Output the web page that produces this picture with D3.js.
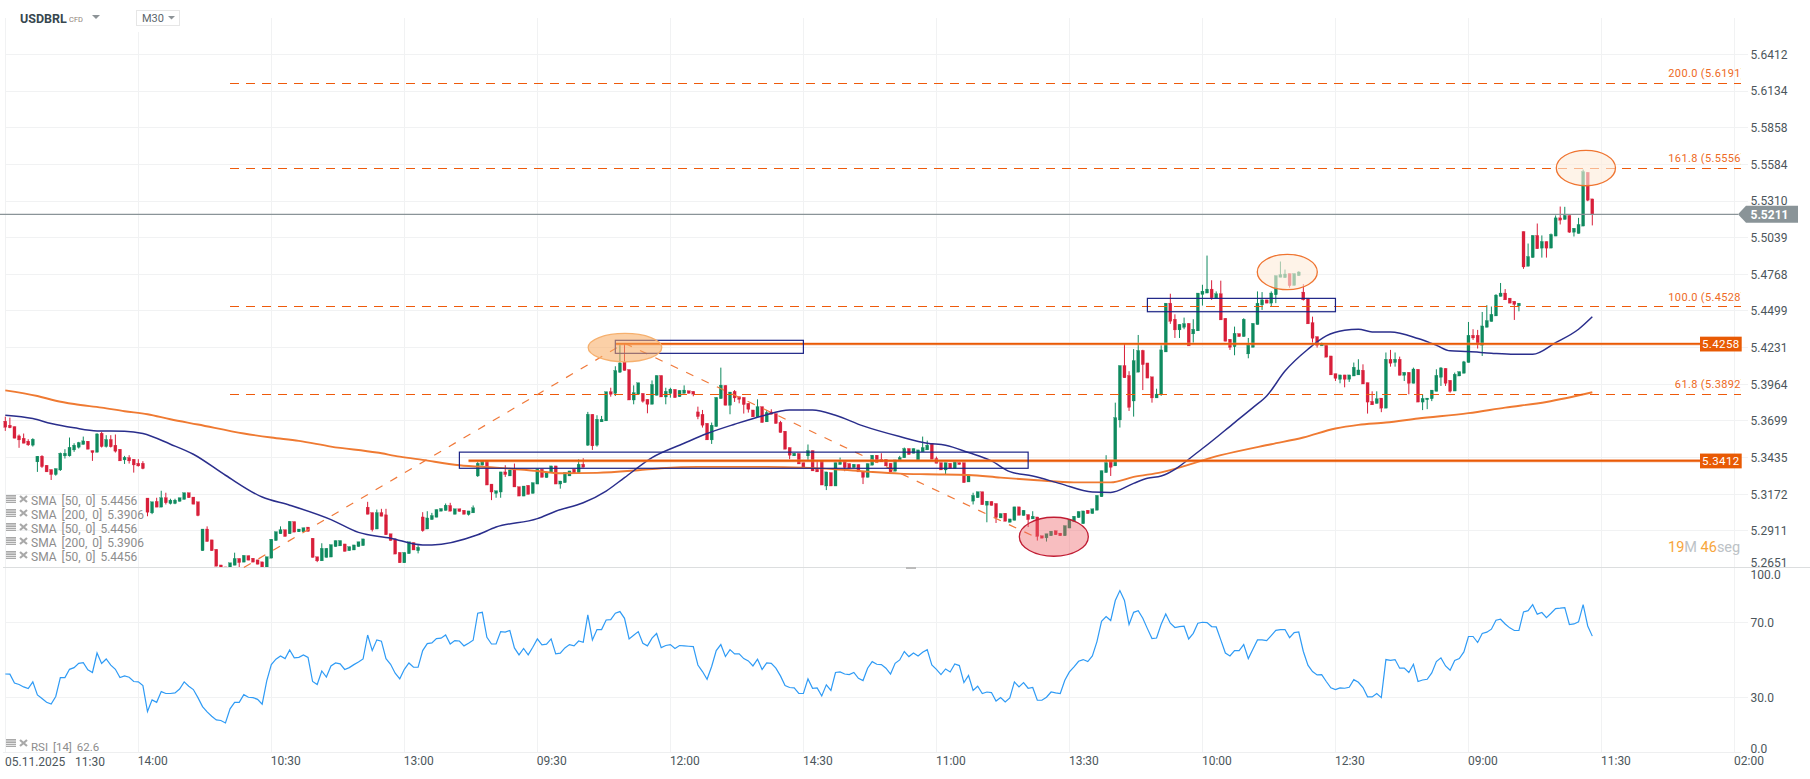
<!DOCTYPE html>
<html>
<head>
<meta charset="utf-8">
<title>USDBRL</title>
<script src="https://cdn.jsdelivr.net/npm/d3@7"></script>
<style>
  html, body { margin: 0; padding: 0; background: #fff; }
  svg { display: block; font-family: Roboto, sans-serif; }
</style>
</head>
<body>
<div id="vis"></div>
<script>
const WIDTH = 1810;
const HEIGHT = 779;

// M30 candles, one row of ten per line
const opens = [
5.3697,5.3668,5.3658,5.3591,5.3574,5.3553,5.3524,5.3404,5.3445,5.3380,
5.3349,5.3313,5.3346,5.3447,5.3447,5.3490,5.3509,5.3529,5.3553,5.3485,
5.3473,5.3610,5.3514,5.3565,5.3524,5.3495,5.3418,5.3435,5.3423,5.3394,
5.3394,5.3145,5.3039,5.3121,5.3080,5.3147,5.3106,5.3106,5.3121,5.3135,
5.3183,5.3152,5.3118,5.2770,5.2924,5.2847,5.2780,5.2669,5.2655,5.2650,
5.2667,5.2715,5.2689,5.2735,5.2717,5.2705,5.2691,5.2650,5.2717,5.2842,
5.2890,5.2919,5.2890,5.2977,5.2904,5.2904,5.2938,5.2859,5.2727,5.2698,
5.2722,5.2725,5.2799,5.2804,5.2818,5.2770,5.2775,5.2799,5.2806,5.3080,
5.3041,5.2924,5.3041,5.3025,5.2890,5.2854,5.2758,5.2684,5.2749,5.2828,
5.2770,5.3010,5.2924,5.2991,5.3008,5.3051,5.3056,5.3092,5.3029,5.3068,
5.3058,5.3027,5.3039,5.3303,5.3380,5.3409,5.3245,5.3178,5.3188,5.3332,
5.3303,5.3351,5.3226,5.3159,5.3236,5.3178,5.3245,5.3351,5.3291,5.3327,
5.3375,5.3245,5.3255,5.3303,5.3351,5.3327,5.3387,5.3524,5.3747,5.3524,
5.3692,5.3699,5.3910,5.3898,5.4052,5.4126,5.4071,5.3850,5.3891,5.3898,
5.3855,5.3819,5.3884,5.4028,5.3872,5.3898,5.3927,5.3874,5.3898,5.3917,
5.3913,5.3764,5.3747,5.3682,5.3562,5.3658,5.3860,5.3956,5.3812,5.3913,
5.3874,5.3869,5.3826,5.3778,5.3728,5.3802,5.3692,5.3764,5.3752,5.3689,
5.3625,5.3507,5.3447,5.3464,5.3399,5.3447,5.3485,5.3351,5.3409,5.3231,
5.3327,5.3231,5.3385,5.3406,5.3392,5.3363,5.3385,5.3332,5.3293,5.3380,
5.3452,5.3423,5.3423,5.3394,5.3337,5.3411,5.3433,5.3500,5.3466,5.3411,
5.3476,5.3490,5.3538,5.3428,5.3399,5.3346,5.3394,5.3356,5.3399,5.3399,
5.3260,5.3123,5.3147,5.3190,5.3094,5.3121,5.3106,5.3003,5.3037,5.2972,
5.2986,5.3082,5.3020,5.3027,5.2996,5.3010,5.2876,5.2861,5.2876,5.2912,
5.2895,5.2876,5.2931,5.2977,5.3005,5.2962,5.3058,5.3034,5.3058,5.3154,
5.3327,5.3411,5.3375,5.3706,5.4100,5.4028,5.3843,5.4052,5.4210,5.4119,
5.4018,5.3865,5.3888,5.4199,5.4556,5.4438,5.4360,5.4379,5.4408,5.4331,
5.4353,5.4620,5.4630,5.4659,5.4590,5.4625,5.4445,5.4292,5.4238,5.4333,
5.4311,5.4185,5.4233,5.4399,5.4543,5.4580,5.4556,5.4617,5.4746,5.4743,
5.4773,5.4686,5.4758,5.4637,5.4593,5.4413,5.4311,5.4243,5.4248,5.4170,
5.4041,5.4000,5.4032,5.4000,5.4024,5.4032,5.4066,5.3976,5.3840,5.3825,
5.3864,5.3791,5.4146,5.4122,5.4146,5.4029,5.4051,5.3971,5.4073,5.3835,
5.3852,5.3859,5.3913,5.4015,5.4080,5.3993,5.3915,5.4024,5.4044,5.4122,
5.4321,5.4321,5.4248,5.4379,5.4421,5.4462,5.4605,5.4630,5.4593,5.4570,
5.4536,5.5084,5.4827,5.4891,5.5055,5.4961,5.5010,5.4961,5.5050,5.5185,
5.5173,5.5203,5.5079,5.5069,5.5124,5.5524,5.5326];

const closes = [
5.3653,5.3649,5.3574,5.3562,5.3538,5.3526,5.3567,5.3445,5.3370,5.3332,
5.3313,5.3356,5.3466,5.3466,5.3509,5.3524,5.3543,5.3555,5.3495,5.3471,
5.3605,5.3514,5.3565,5.3512,5.3481,5.3411,5.3437,5.3411,5.3382,5.3375,
5.3356,5.3044,5.3118,5.3080,5.3147,5.3111,5.3130,5.3130,5.3147,5.3183,
5.3147,5.3101,5.3020,5.2924,5.2835,5.2770,5.2660,5.2645,5.2630,5.2684,
5.2715,5.2686,5.2737,5.2703,5.2689,5.2674,5.2645,5.2727,5.2852,5.2905,
5.2919,5.2871,5.2979,5.2902,5.2924,5.2933,5.2907,5.2722,5.2698,5.2787,
5.2787,5.2813,5.2842,5.2842,5.2765,5.2799,5.2811,5.2833,5.2854,5.3029,
5.2919,5.3041,5.3015,5.2883,5.2842,5.2746,5.2684,5.2758,5.2833,5.2775,
5.2794,5.2912,5.3003,5.3020,5.3063,5.3070,5.3094,5.3051,5.3068,5.3049,
5.3029,5.3053,5.3075,5.3394,5.3409,5.3238,5.3188,5.3197,5.3332,5.3313,
5.3346,5.3224,5.3159,5.3231,5.3171,5.3255,5.3351,5.3293,5.3327,5.3375,
5.3245,5.3267,5.3327,5.3339,5.3322,5.3387,5.3365,5.3747,5.3519,5.3711,
5.3711,5.3910,5.3891,5.4064,5.4119,5.4064,5.3850,5.3903,5.3975,5.3841,
5.3819,5.3963,5.4028,5.3872,5.3913,5.3929,5.3867,5.3920,5.3922,5.3898,
5.3893,5.3730,5.3668,5.3562,5.3668,5.3869,5.3958,5.3812,5.3908,5.3865,
5.3855,5.3817,5.3783,5.3728,5.3802,5.3687,5.3759,5.3747,5.3680,5.3615,
5.3495,5.3452,5.3466,5.3389,5.3361,5.3485,5.3339,5.3332,5.3238,5.3332,
5.3231,5.3399,5.3404,5.3363,5.3358,5.3387,5.3332,5.3293,5.3392,5.3452,
5.3399,5.3404,5.3375,5.3332,5.3418,5.3435,5.3500,5.3457,5.3500,5.3490,
5.3507,5.3524,5.3423,5.3394,5.3346,5.3399,5.3356,5.3404,5.3385,5.3255,
5.3308,5.3164,5.3190,5.3097,5.3123,5.3092,5.3005,5.3034,5.2979,5.2996,
5.3082,5.3022,5.3058,5.2991,5.3015,5.2871,5.2859,5.2890,5.2909,5.2883,
5.2876,5.2948,5.2991,5.3015,5.3049,5.3053,5.3034,5.3068,5.3164,5.3341,
5.3399,5.3365,5.3723,5.4100,5.4011,5.3797,5.4136,5.4210,5.4107,5.4009,
5.3865,5.3893,5.4214,5.4556,5.4423,5.4360,5.4401,5.4406,5.4243,5.4365,
5.4630,5.4644,5.4659,5.4595,5.4625,5.4433,5.4277,5.4233,5.4335,5.4311,
5.4438,5.4250,5.4408,5.4556,5.4580,5.4556,5.4630,5.4758,5.4766,5.4770,
5.4684,5.4773,5.4785,5.4580,5.4404,5.4299,5.4248,5.4255,5.4161,5.4032,
5.4007,5.4032,5.4000,5.4032,5.4088,5.4068,5.3966,5.3835,5.3815,5.3859,
5.3791,5.4146,5.4117,5.4146,5.4029,5.4051,5.3971,5.4075,5.3835,5.3862,
5.3864,5.3922,5.4029,5.4083,5.3971,5.3913,5.4037,5.4056,5.4127,5.4321,
5.4301,5.4255,5.4389,5.4428,5.4474,5.4615,5.4630,5.4580,5.4556,5.4546,
5.4556,5.4822,5.4899,5.5055,5.4956,5.5010,5.4961,5.5062,5.5185,5.5168,
5.5203,5.5079,5.5108,5.5136,5.5529,5.5316,5.5211];

const highs = [
5.3730,5.3723,5.3658,5.3601,5.3608,5.3567,5.3574,5.3445,5.3452,5.3380,
5.3349,5.3356,5.3471,5.3495,5.3579,5.3538,5.3548,5.3586,5.3553,5.3485,
5.3610,5.3620,5.3596,5.3596,5.3601,5.3495,5.3447,5.3452,5.3423,5.3423,
5.3409,5.3145,5.3118,5.3147,5.3197,5.3183,5.3140,5.3140,5.3147,5.3183,
5.3183,5.3152,5.3118,5.2924,5.2943,5.2847,5.2780,5.2669,5.2655,5.2684,
5.2756,5.2715,5.2737,5.2735,5.2717,5.2705,5.2691,5.2727,5.2852,5.2905,
5.2943,5.2919,5.2979,5.2977,5.2924,5.2933,5.2938,5.2859,5.2727,5.2823,
5.2787,5.2813,5.2842,5.2842,5.2818,5.2799,5.2811,5.2833,5.2854,5.3118,
5.3041,5.3063,5.3068,5.3068,5.2890,5.2854,5.2758,5.2758,5.2833,5.2828,
5.2809,5.3044,5.3051,5.3039,5.3063,5.3070,5.3106,5.3111,5.3068,5.3068,
5.3058,5.3053,5.3092,5.3404,5.3409,5.3409,5.3245,5.3197,5.3332,5.3380,
5.3346,5.3392,5.3226,5.3231,5.3236,5.3255,5.3351,5.3351,5.3327,5.3375,
5.3375,5.3267,5.3327,5.3339,5.3351,5.3423,5.3430,5.3764,5.3747,5.3740,
5.3735,5.3910,5.3939,5.4095,5.4251,5.4263,5.4071,5.3956,5.3975,5.3898,
5.3855,5.3992,5.4028,5.4028,5.3939,5.3939,5.3927,5.3920,5.3956,5.3917,
5.3913,5.3802,5.3778,5.3682,5.3687,5.3869,5.4085,5.3956,5.3908,5.3922,
5.3874,5.3869,5.3826,5.3778,5.3855,5.3802,5.3778,5.3783,5.3752,5.3699,
5.3625,5.3507,5.3466,5.3464,5.3399,5.3529,5.3485,5.3409,5.3409,5.3332,
5.3327,5.3399,5.3435,5.3406,5.3392,5.3387,5.3385,5.3332,5.3392,5.3452,
5.3452,5.3466,5.3423,5.3394,5.3418,5.3447,5.3507,5.3500,5.3500,5.3490,
5.3586,5.3557,5.3538,5.3442,5.3399,5.3399,5.3394,5.3404,5.3399,5.3399,
5.3308,5.3183,5.3190,5.3190,5.3123,5.3121,5.3106,5.3034,5.3037,5.2996,
5.3082,5.3082,5.3058,5.3027,5.3051,5.3010,5.2876,5.2890,5.2909,5.2912,
5.2895,5.2948,5.2991,5.3015,5.3049,5.3053,5.3058,5.3068,5.3164,5.3341,
5.3452,5.3411,5.3831,5.4100,5.4263,5.4059,5.4220,5.4323,5.4215,5.4119,
5.4018,5.3932,5.4248,5.4556,5.4625,5.4474,5.4401,5.4450,5.4408,5.4438,
5.4630,5.4691,5.4906,5.4724,5.4642,5.4721,5.4445,5.4292,5.4384,5.4333,
5.4445,5.4301,5.4408,5.4642,5.4637,5.4580,5.4642,5.4758,5.4862,5.4803,
5.4773,5.4773,5.4790,5.4696,5.4593,5.4457,5.4311,5.4267,5.4248,5.4170,
5.4041,5.4032,5.4032,5.4032,5.4122,5.4146,5.4109,5.3976,5.3913,5.3913,
5.3864,5.4195,5.4214,5.4195,5.4165,5.4051,5.4051,5.4085,5.4073,5.3891,
5.3864,5.3922,5.4073,5.4088,5.4080,5.3993,5.4049,5.4056,5.4134,5.4418,
5.4365,5.4360,5.4491,5.4541,5.4531,5.4622,5.4704,5.4659,5.4593,5.4570,
5.4556,5.5084,5.4995,5.5055,5.5143,5.5055,5.5010,5.5069,5.5203,5.5269,
5.5267,5.5203,5.5108,5.5185,5.5544,5.5524,5.5326];

const lows = [
5.3627,5.3646,5.3574,5.3505,5.3538,5.3519,5.3514,5.3332,5.3361,5.3332,
5.3274,5.3305,5.3339,5.3428,5.3442,5.3476,5.3500,5.3529,5.3495,5.3411,
5.3473,5.3507,5.3507,5.3507,5.3471,5.3411,5.3389,5.3392,5.3327,5.3370,
5.3351,5.3015,5.3030,5.3080,5.3080,5.3099,5.3099,5.3101,5.3121,5.3135,
5.3147,5.3101,5.3015,5.2770,5.2835,5.2770,5.2660,5.2640,5.2625,5.2650,
5.2667,5.2650,5.2689,5.2703,5.2689,5.2674,5.2640,5.2650,5.2717,5.2842,
5.2890,5.2871,5.2890,5.2902,5.2904,5.2904,5.2907,5.2722,5.2689,5.2698,
5.2722,5.2725,5.2799,5.2804,5.2765,5.2770,5.2775,5.2799,5.2806,5.3029,
5.2907,5.2924,5.3015,5.2883,5.2842,5.2746,5.2684,5.2684,5.2749,5.2775,
5.2751,5.2905,5.2924,5.2991,5.3008,5.3051,5.3056,5.3051,5.3029,5.3049,
5.3029,5.3020,5.3039,5.3296,5.3380,5.3238,5.3130,5.3147,5.3147,5.3296,
5.3303,5.3224,5.3159,5.3159,5.3171,5.3178,5.3245,5.3293,5.3291,5.3327,
5.3245,5.3212,5.3255,5.3303,5.3322,5.3327,5.3365,5.3519,5.3490,5.3514,
5.3692,5.3699,5.3874,5.3879,5.4047,5.4064,5.3850,5.3819,5.3891,5.3831,
5.3754,5.3819,5.3884,5.3872,5.3819,5.3867,5.3867,5.3874,5.3898,5.3898,
5.3877,5.3711,5.3651,5.3562,5.3533,5.3658,5.3860,5.3812,5.3747,5.3836,
5.3826,5.3752,5.3759,5.3728,5.3728,5.3687,5.3692,5.3747,5.3680,5.3615,
5.3495,5.3423,5.3447,5.3389,5.3361,5.3411,5.3339,5.3332,5.3238,5.3202,
5.3231,5.3231,5.3385,5.3337,5.3358,5.3363,5.3332,5.3245,5.3293,5.3380,
5.3399,5.3404,5.3375,5.3332,5.3337,5.3411,5.3433,5.3457,5.3466,5.3411,
5.3476,5.3490,5.3423,5.3394,5.3346,5.3313,5.3356,5.3356,5.3385,5.3255,
5.3260,5.3099,5.3147,5.3097,5.2972,5.3092,5.2967,5.3003,5.2979,5.2972,
5.2986,5.3022,5.3020,5.2938,5.2996,5.2842,5.2859,5.2835,5.2876,5.2883,
5.2876,5.2876,5.2931,5.2977,5.3005,5.2962,5.3034,5.3034,5.3058,5.3154,
5.3327,5.3303,5.3375,5.3651,5.4011,5.3771,5.3730,5.4052,5.3922,5.4009,
5.3831,5.3865,5.3880,5.4199,5.4404,5.4301,5.4301,5.4365,5.4243,5.4267,
5.4353,5.4538,5.4630,5.4580,5.4590,5.4433,5.4277,5.4214,5.4175,5.4311,
5.4311,5.4153,5.4233,5.4399,5.4506,5.4556,5.4531,5.4556,5.4746,5.4743,
5.4669,5.4686,5.4758,5.4575,5.4404,5.4267,5.4231,5.4243,5.4161,5.4032,
5.3988,5.3971,5.3942,5.3981,5.4024,5.4032,5.3966,5.3752,5.3815,5.3825,
5.3762,5.3791,5.4092,5.4092,5.4029,5.3988,5.3891,5.3971,5.3835,5.3777,
5.3784,5.3842,5.3913,5.3952,5.3952,5.3903,5.3915,5.4024,5.4044,5.4122,
5.4287,5.4224,5.4170,5.4379,5.4421,5.4462,5.4605,5.4580,5.4556,5.4433,
5.4496,5.4808,5.4827,5.4891,5.4956,5.4891,5.4891,5.4961,5.5050,5.5136,
5.5173,5.5074,5.5047,5.5069,5.5124,5.5309,5.5129];

// moving averages read at the bars where the curve bends
const sma50Bars = [0,6,10,15,20,26,30,36,41,48,56,62,71,77,84,91,93,103,107,116,120,126,131,135,141,148,153,159,165,171,176,181,187,195,201,205,210,215,219,224,230,237,241,246,249,252,261,268,272,275,279,284,288,292,295,298,302,308,312,315,319,324,329,333,338,343,346];
const sma50Values = [5.3740,5.3716,5.3680,5.3649,5.3627,5.3625,5.3608,5.3531,5.3459,5.3308,5.3152,5.3094,5.2991,5.2900,5.2859,5.2811,5.2811,5.2883,5.2938,5.2998,5.3051,5.3111,5.3195,5.3291,5.3435,5.3538,5.3608,5.3675,5.3735,5.3778,5.3778,5.3740,5.3663,5.3586,5.3538,5.3524,5.3471,5.3411,5.3334,5.3303,5.3248,5.3188,5.3185,5.3250,5.3286,5.3303,5.3500,5.3687,5.3795,5.3879,5.4060,5.4219,5.4316,5.4357,5.4365,5.4345,5.4345,5.4297,5.4248,5.4207,5.4202,5.4190,5.4182,5.4182,5.4267,5.4365,5.4456];
const sma200Bars = [0,7,11,15,21,26,31,36,42,52,58,64,71,81,86,91,99,107,116,121,129,138,143,151,166,174,181,188,195,201,210,217,225,233,241,246,252,265,276,283,290,295,301,308,319,327,336,346];
const sma200Values = [5.3920,5.3879,5.3845,5.3821,5.3795,5.3769,5.3747,5.3711,5.3673,5.3608,5.3579,5.3555,5.3514,5.3471,5.3442,5.3418,5.3380,5.3363,5.3339,5.3322,5.3325,5.3344,5.3358,5.3368,5.3368,5.3363,5.3351,5.3334,5.3320,5.3315,5.3310,5.3291,5.3272,5.3257,5.3257,5.3296,5.3329,5.3452,5.3531,5.3579,5.3644,5.3670,5.3687,5.3716,5.3755,5.3795,5.3836,5.3906];

const rsiValues = [
42.4,42.3,37.6,36.8,35.5,34.6,38.2,31.2,29.3,27.3,26.4,30.4,40.5,40.5,44.9,45.8,48.1,48.5,44.6,43.2,
53.6,48.0,50.4,47.1,44.9,40.5,41.4,40.7,38.4,38.2,36.2,22.4,28.6,27.3,33.0,32.0,32.0,32.3,34.4,38.2,
35.9,34.1,29.8,25.0,22.2,19.9,17.9,17.6,16.3,23.8,27.3,27.3,31.4,30.0,29.8,28.9,26.3,38.7,47.4,50.3,
52.0,50.6,55.2,51.0,51.3,52.6,51.2,38.4,36.8,44.0,40.8,46.7,48.3,47.8,44.8,45.8,47.4,48.8,50.4,63.2,
54.9,60.6,59.9,50.6,47.6,42.8,39.8,44.9,48.3,46.0,46.0,54.9,58.6,59.0,61.3,61.5,63.2,58.4,60.2,60.0,
57.4,58.8,60.4,74.8,75.3,62.0,58.4,58.4,65.0,64.7,65.6,56.3,52.6,56.0,52.6,56.7,61.1,57.9,58.3,61.1,
53.1,53.5,56.3,58.1,57.4,60.0,59.3,73.9,60.6,66.1,66.1,71.2,71.4,74.8,75.7,72.1,61.1,63.1,65.0,58.8,
57.4,61.5,64.0,56.5,57.6,58.1,56.0,57.6,57.4,57.2,57.0,47.2,43.7,39.6,46.4,54.9,58.1,51.7,55.4,53.1,
53.1,50.6,49.4,46.7,50.3,44.8,48.3,48.1,45.5,41.4,36.2,35.2,35.0,32.1,32.0,39.8,34.8,35.0,30.7,36.6,
33.6,43.2,43.5,42.4,42.1,43.2,40.1,38.9,45.5,49.0,47.6,47.4,45.5,42.4,48.1,49.9,
54.4,51.7,53.6,52.0,54.0,55.4,47.2,44.9,42.1,45.1,43.5,47.8,46.9,37.8,41.6,33.6,35.9,32.0,32.8,32.5,
28.0,29.8,27.5,29.6,38.2,35.5,37.8,34.8,35.2,28.4,28.4,30.0,32.8,32.3,32.0,39.1,43.5,46.2,49.2,50.1,
49.0,52.0,59.7,70.5,73.0,70.9,81.6,86.9,81.6,68.8,75.3,76.2,72.1,66.6,61.3,61.6,68.9,74.4,69.5,67.2,
67.7,67.9,61.1,64.1,69.5,70.0,69.8,67.7,67.5,60.6,53.6,52.0,54.9,54.9,58.1,50.6,55.6,60.6,60.6,60.2,
62.9,65.7,66.1,66.1,61.8,64.5,64.8,54.4,47.1,43.7,41.9,42.1,38.4,35.0,34.1,35.0,34.8,35.3,39.4,38.0,
35.2,30.2,30.2,32.0,29.8,50.1,49.7,50.1,45.5,45.6,43.2,47.6,38.4,39.2,39.6,43.0,49.0,51.0,46.7,44.4,
49.6,50.6,54.2,62.4,62.4,59.2,64.0,64.7,66.3,71.1,71.6,69.1,67.0,65.6,65.7,75.5,76.2,79.4,74.3,75.2,
72.5,74.8,77.3,77.5,77.8,68.8,69.1,70.2,79.4,68.0,62.6];

const priceTicks = [5.6412,5.6134,5.5858,5.5584,5.5310,5.5039,5.4768,5.4499,5.4231,5.3964,5.3699,5.3435,5.3172,5.2911,5.2651];
const rsiTicks = [100,70,30,0];
const timeLabels = ["14:00","10:30","13:00","09:30","12:00","14:30","11:00","13:30","10:00","12:30","09:00","11:30","02:00"];
const timeBars = [29,58,87,116,145,174,203,232,261,290,319,348,377];

const fibLevels = [5.6191,5.5556,5.4528,5.3892];
const fibLabels = ["200.0 (5.6191)","161.8 (5.5556)","100.0 (5.4528)","61.8 (5.3892)"];
const supportLevels = [5.4258,5.3412];
const supportStartBars = [133,101];
const lastPrice = 5.5211;

const trendBars = [52,135,225];
const trendPrices = [5.2651,5.4263,5.2860];

const boxBars = [[133,174],[99,223],[249,290]];
const boxPrices = [[5.4284,5.4189],[5.3474,5.3358],[5.4591,5.4493]];

const legendLabels = ["SMA [50, 0] 5.4456","SMA [200, 0] 5.3906","SMA [50, 0] 5.4456","SMA [200, 0] 5.3906","SMA [50, 0] 5.4456"];

const GREEN = "#0f8a5f";
const RED = "#d81f3a";
const FIB = "#ee5a0b";

const FRAME = d3.select("#vis")
  .append("svg")
    .attr("width", WIDTH)
    .attr("height", HEIGHT);

// 29 bars between two time labels, the axis runs out to bar 377
const X_SCALE = d3.scaleLinear().domain([0, 377]).range([5.3, 1734.5]);
// the price axis is logarithmic
const Y_SCALE = d3.scaleLog().domain([5.2651, 5.6412]).range([567.5, 54.3]);
const RSI_SCALE = d3.scaleLinear().domain([0, 100]).range([753.5, 566]);

const defs = FRAME.append("defs");
defs.append("clipPath").attr("id", "pricePane")
  .append("rect").attr("x", 0).attr("y", 0).attr("width", 1741).attr("height", 567);
defs.append("clipPath").attr("id", "fibClip")
  .append("rect").attr("x", 0).attr("y", 0).attr("width", 1741).attr("height", 567);

// grid
const grid = FRAME.append("g").attr("stroke", "#f1f2f3").attr("stroke-width", 1).attr("shape-rendering", "crispEdges");
grid.selectAll("line.h").data(priceTicks).enter().append("line")
  .attr("x1", 5).attr("x2", 1748)
  .attr("y1", (d) => Y_SCALE(d)).attr("y2", (d) => Y_SCALE(d));
grid.selectAll("line.r").data([70, 30]).enter().append("line")
  .attr("x1", 5).attr("x2", 1748)
  .attr("y1", (d) => RSI_SCALE(d)).attr("y2", (d) => RSI_SCALE(d));
grid.selectAll("line.v").data(timeBars).enter().append("line")
  .attr("x1", (d) => X_SCALE(d)).attr("x2", (d) => X_SCALE(d))
  .attr("y1", (d, i) => i === 0 ? 32 : 18).attr("y2", 752);
grid.append("line").attr("x1", 5.5).attr("x2", 5.5).attr("y1", 18).attr("y2", 752);

// pane borders
FRAME.append("line").attr("x1", 3).attr("x2", WIDTH).attr("y1", 567.5).attr("y2", 567.5)
  .attr("stroke", "#dcdedf").attr("stroke-width", 1.2);
FRAME.append("line").attr("x1", 3).attr("x2", 1741).attr("y1", 752.5).attr("y2", 752.5)
  .attr("stroke", "#eeeff0").attr("stroke-width", 1);
FRAME.append("rect").attr("x", 906).attr("y", 567).attr("width", 10).attr("height", 2).attr("fill", "#bbb");

// candles
const candles = FRAME.append("g").attr("clip-path", "url(#pricePane)");
const bars = candles.selectAll("g").data(opens).enter().append("g")
  .attr("fill", (d, i) => closes[i] >= d ? GREEN : RED)
  .attr("stroke", (d, i) => closes[i] >= d ? GREEN : RED);
bars.append("line")
  .attr("x1", (d, i) => X_SCALE(i)).attr("x2", (d, i) => X_SCALE(i))
  .attr("y1", (d, i) => Y_SCALE(highs[i])).attr("y2", (d, i) => Y_SCALE(lows[i]))
  .attr("stroke-width", 1);
bars.append("rect")
  .attr("x", (d, i) => X_SCALE(i) - 1.5).attr("width", 3)
  .attr("y", (d, i) => Y_SCALE(Math.max(d, closes[i])))
  .attr("height", (d, i) => Math.max(1, Math.abs(Y_SCALE(d) - Y_SCALE(closes[i]))))
  .attr("stroke-width", 0.3);

// moving averages
const smaLine = (xs) => d3.line().x((d, i) => X_SCALE(xs[i])).y((d) => Y_SCALE(d)).curve(d3.curveMonotoneX);
FRAME.append("path").datum(sma200Values)
  .attr("d", smaLine(sma200Bars)).attr("fill", "none")
  .attr("stroke", "#ef7a32").attr("stroke-width", 1.9);
FRAME.append("path").datum(sma50Values)
  .attr("d", smaLine(sma50Bars)).attr("fill", "none")
  .attr("stroke", "#2a2e8c").attr("stroke-width", 1.5);

// fib levels
FRAME.selectAll("line.fib").data(fibLevels).enter().append("line")
  .attr("x1", X_SCALE(49)).attr("x2", 1741)
  .attr("y1", (d) => Y_SCALE(d)).attr("y2", (d) => Y_SCALE(d))
  .attr("stroke", FIB).attr("stroke-width", 1).attr("stroke-dasharray", "9,7")
  .attr("shape-rendering", "crispEdges");
FRAME.append("g").attr("clip-path", "url(#fibClip)")
  .selectAll("text").data(fibLabels).enter().append("text")
    .attr("x", 1745)
    .attr("y", (d, i) => Y_SCALE(fibLevels[i]) - 6)
    .attr("text-anchor", "end")
    .attr("font-size", 11).attr("letter-spacing", 0.35)
    .attr("fill", "#ee6a24")
    .text((d) => d);

// trend line through the swing points
FRAME.append("path").datum(trendPrices)
  .attr("d", d3.line().x((d, i) => X_SCALE(trendBars[i])).y((d) => Y_SCALE(d)))
  .attr("fill", "none").attr("stroke", "#f0793a").attr("stroke-width", 1.2)
  .attr("stroke-dasharray", "8,9");

// horizontal levels with their tags
const levels = FRAME.selectAll("g.level").data(supportLevels).enter().append("g");
levels.append("line")
  .attr("x1", (d, i) => X_SCALE(supportStartBars[i])).attr("x2", 1700)
  .attr("y1", (d) => Y_SCALE(d)).attr("y2", (d) => Y_SCALE(d))
  .attr("stroke", "#f09a6a").attr("stroke-width", 3.4).attr("opacity", 0.45);
levels.append("line")
  .attr("x1", (d, i) => X_SCALE(supportStartBars[i])).attr("x2", 1700)
  .attr("y1", (d) => Y_SCALE(d)).attr("y2", (d) => Y_SCALE(d))
  .attr("stroke", "#ea5a06").attr("stroke-width", 1.8);
levels.append("rect")
  .attr("x", 1700).attr("width", 41.7).attr("height", 14.8)
  .attr("y", (d) => Y_SCALE(d) - 7.2)
  .attr("fill", "#e85a04");
levels.append("text")
  .attr("x", 1720.8).attr("y", (d) => Y_SCALE(d) + 4)
  .attr("text-anchor", "middle").attr("font-size", 11.5).attr("letter-spacing", 0.4)
  .attr("fill", "#fff")
  .text((d) => d.toFixed(4));

// blue boxes
FRAME.selectAll("rect.box").data(boxBars).enter().append("rect")
  .attr("x", (d) => X_SCALE(d[0]))
  .attr("width", (d) => X_SCALE(d[1]) - X_SCALE(d[0]))
  .attr("y", (d, i) => Y_SCALE(boxPrices[i][0]))
  .attr("height", (d, i) => Y_SCALE(boxPrices[i][1]) - Y_SCALE(boxPrices[i][0]))
  .attr("fill", "none").attr("stroke", "#1b2385").attr("stroke-width", 1.2);

// ellipses marking the swing highs and lows
const ellipseBars = [135.1,228.6,279.5,344.6];
const ellipsePrices = [5.4231,5.2869,5.4785,5.5556];
const ellipseRadii = [[36.8,14.2],[34.5,19.5],[30,17.7],[29.6,17.7]];
const ellipseFills = ["rgba(247,170,95,0.55)","rgba(238,100,105,0.42)","rgba(253,236,218,0.62)","rgba(253,236,218,0.62)"];
const ellipseStrokes = ["#f6b06e","#c01c33","#ef7430","#ef7430"];
FRAME.selectAll("ellipse").data(ellipseBars).enter().append("ellipse")
  .attr("cx", (d) => X_SCALE(d))
  .attr("cy", (d, i) => Y_SCALE(ellipsePrices[i]))
  .attr("rx", (d, i) => ellipseRadii[i][0])
  .attr("ry", (d, i) => ellipseRadii[i][1])
  .attr("fill", (d, i) => ellipseFills[i])
  .attr("stroke", (d, i) => ellipseStrokes[i])
  .attr("stroke-width", 1.3);

// last price line and tag
FRAME.append("line").attr("x1", 0).attr("x2", 1738)
  .attr("y1", Y_SCALE(lastPrice)).attr("y2", Y_SCALE(lastPrice))
  .attr("stroke", "#8a9498").attr("stroke-width", 1.2);

// rsi
FRAME.append("path").datum(rsiValues)
  .attr("d", d3.line().x((d, i) => X_SCALE(i)).y((d) => RSI_SCALE(d)))
  .attr("fill", "none").attr("stroke", "#2f9bf5").attr("stroke-width", 1.2);

// axes
const styleAxis = (g) => {
  g.select(".domain").remove();
  g.selectAll("line").remove();
  g.selectAll("text").attr("fill", "#4c565b").attr("font-size", 12).attr("font-family", "Roboto, sans-serif");
};
const priceAxis = FRAME.append("g")
  .attr("transform", "translate(1750.5,0)")
  .call(d3.axisRight(Y_SCALE).tickValues(priceTicks).tickFormat(d3.format(".4f")).tickSize(0).tickPadding(0))
  .call(styleAxis);
priceAxis.selectAll("text").filter((d) => d === 5.2651).attr("transform", "translate(0,-5)");

const rsiAxis = FRAME.append("g")
  .attr("transform", "translate(1750.5,0)")
  .call(d3.axisRight(RSI_SCALE).tickValues(rsiTicks).tickFormat(d3.format(".1f")).tickSize(0).tickPadding(0))
  .call(styleAxis);
rsiAxis.selectAll("text").filter((d) => d === 100).attr("transform", "translate(0,8.5)");
rsiAxis.selectAll("text").filter((d) => d === 0).attr("transform", "translate(0,-4.5)");

const timeAxis = FRAME.append("g")
  .attr("transform", "translate(0,752)")
  .call(d3.axisBottom(X_SCALE).tickValues(timeBars).tickFormat((d, i) => timeLabels[i]).tickSize(0).tickPadding(0))
  .call(styleAxis);
timeAxis.selectAll("text").attr("text-anchor", "start").attr("dx", -1).attr("y", 4);

FRAME.append("text").attr("x", 5).attr("y", 766).attr("font-size", 12).attr("fill", "#4c565b").text("05.11.2025");
FRAME.append("text").attr("x", 75).attr("y", 766).attr("font-size", 12).attr("fill", "#4c565b").text("11:30");

// last price tag goes over the axis labels
FRAME.append("path")
  .attr("d", d3.line()([[1738, Y_SCALE(lastPrice)], [1746, Y_SCALE(lastPrice) - 8.5], [1798, Y_SCALE(lastPrice) - 8.5], [1798, Y_SCALE(lastPrice) + 8.5], [1746, Y_SCALE(lastPrice) + 8.5]]) + "Z")
  .attr("fill", "#8a9498");
FRAME.append("text").attr("x", 1750.5).attr("y", Y_SCALE(lastPrice) + 4.5)
  .attr("font-size", 12).attr("font-weight", 700).attr("fill", "#fff").text(lastPrice.toFixed(4));

// legends
const icon = (g, y) => {
  g.append("rect").attr("x", 6).attr("y", y - 5).attr("width", 10).attr("height", 8).attr("fill", "#a9a9a9");
  [y - 3, y - 0.5, y + 1.5].forEach((ly) => {
    g.append("line").attr("x1", 6).attr("x2", 16).attr("y1", ly).attr("y2", ly).attr("stroke", "#fff").attr("stroke-width", 0.7);
  });
  g.append("path").attr("d", `M20,${y - 4}L27,${y + 2}M27,${y - 4}L20,${y + 2}`)
    .attr("stroke", "#a9a9a9").attr("stroke-width", 2.2);
};
const legend = FRAME.append("g");
legendLabels.forEach((t, i) => {
  const y = 500 + i * 14;
  icon(legend, y);
  legend.append("text").attr("x", 31).attr("y", y + 5)
    .attr("font-size", 12).attr("word-spacing", 2).attr("fill", "#8d8d8d").text(t);
});
icon(legend, 744);
legend.append("text").attr("x", 31).attr("y", 751)
  .attr("font-size", 11.5).attr("word-spacing", 2).attr("fill", "#8d8d8d").text("RSI [14] 62.6");

// countdown
const timer = FRAME.append("text").attr("x", 1668).attr("y", 552).attr("font-size", 14.5);
timer.append("tspan").attr("fill", "#f7a53b").text("19");
timer.append("tspan").attr("fill", "#bcc2c6").text("M ");
timer.append("tspan").attr("fill", "#f7a53b").text("46");
timer.append("tspan").attr("fill", "#bcc2c6").text("seg");

// header
FRAME.append("text").attr("x", 20).attr("y", 23).attr("font-size", 12.5).attr("font-weight", 700)
  .attr("fill", "#37474f").text("USDBRL");
FRAME.append("text").attr("x", 69).attr("y", 22).attr("font-size", 7.5)
  .attr("fill", "#8f7f7a").text("CFD");
FRAME.append("path").attr("d", "M92,15L100,15L96,19Z").attr("fill", "#8d9397");
FRAME.append("rect").attr("x", 136.5).attr("y", 10.5).attr("width", 43).attr("height", 15)
  .attr("fill", "#fff").attr("stroke", "#e6e6e6");
FRAME.append("text").attr("x", 142).attr("y", 22).attr("font-size", 11).attr("fill", "#5c666b").text("M30");
FRAME.append("path").attr("d", "M168,16L175,16L171.5,19.5Z").attr("fill", "#8d9397");
</script>
</body>
</html>
